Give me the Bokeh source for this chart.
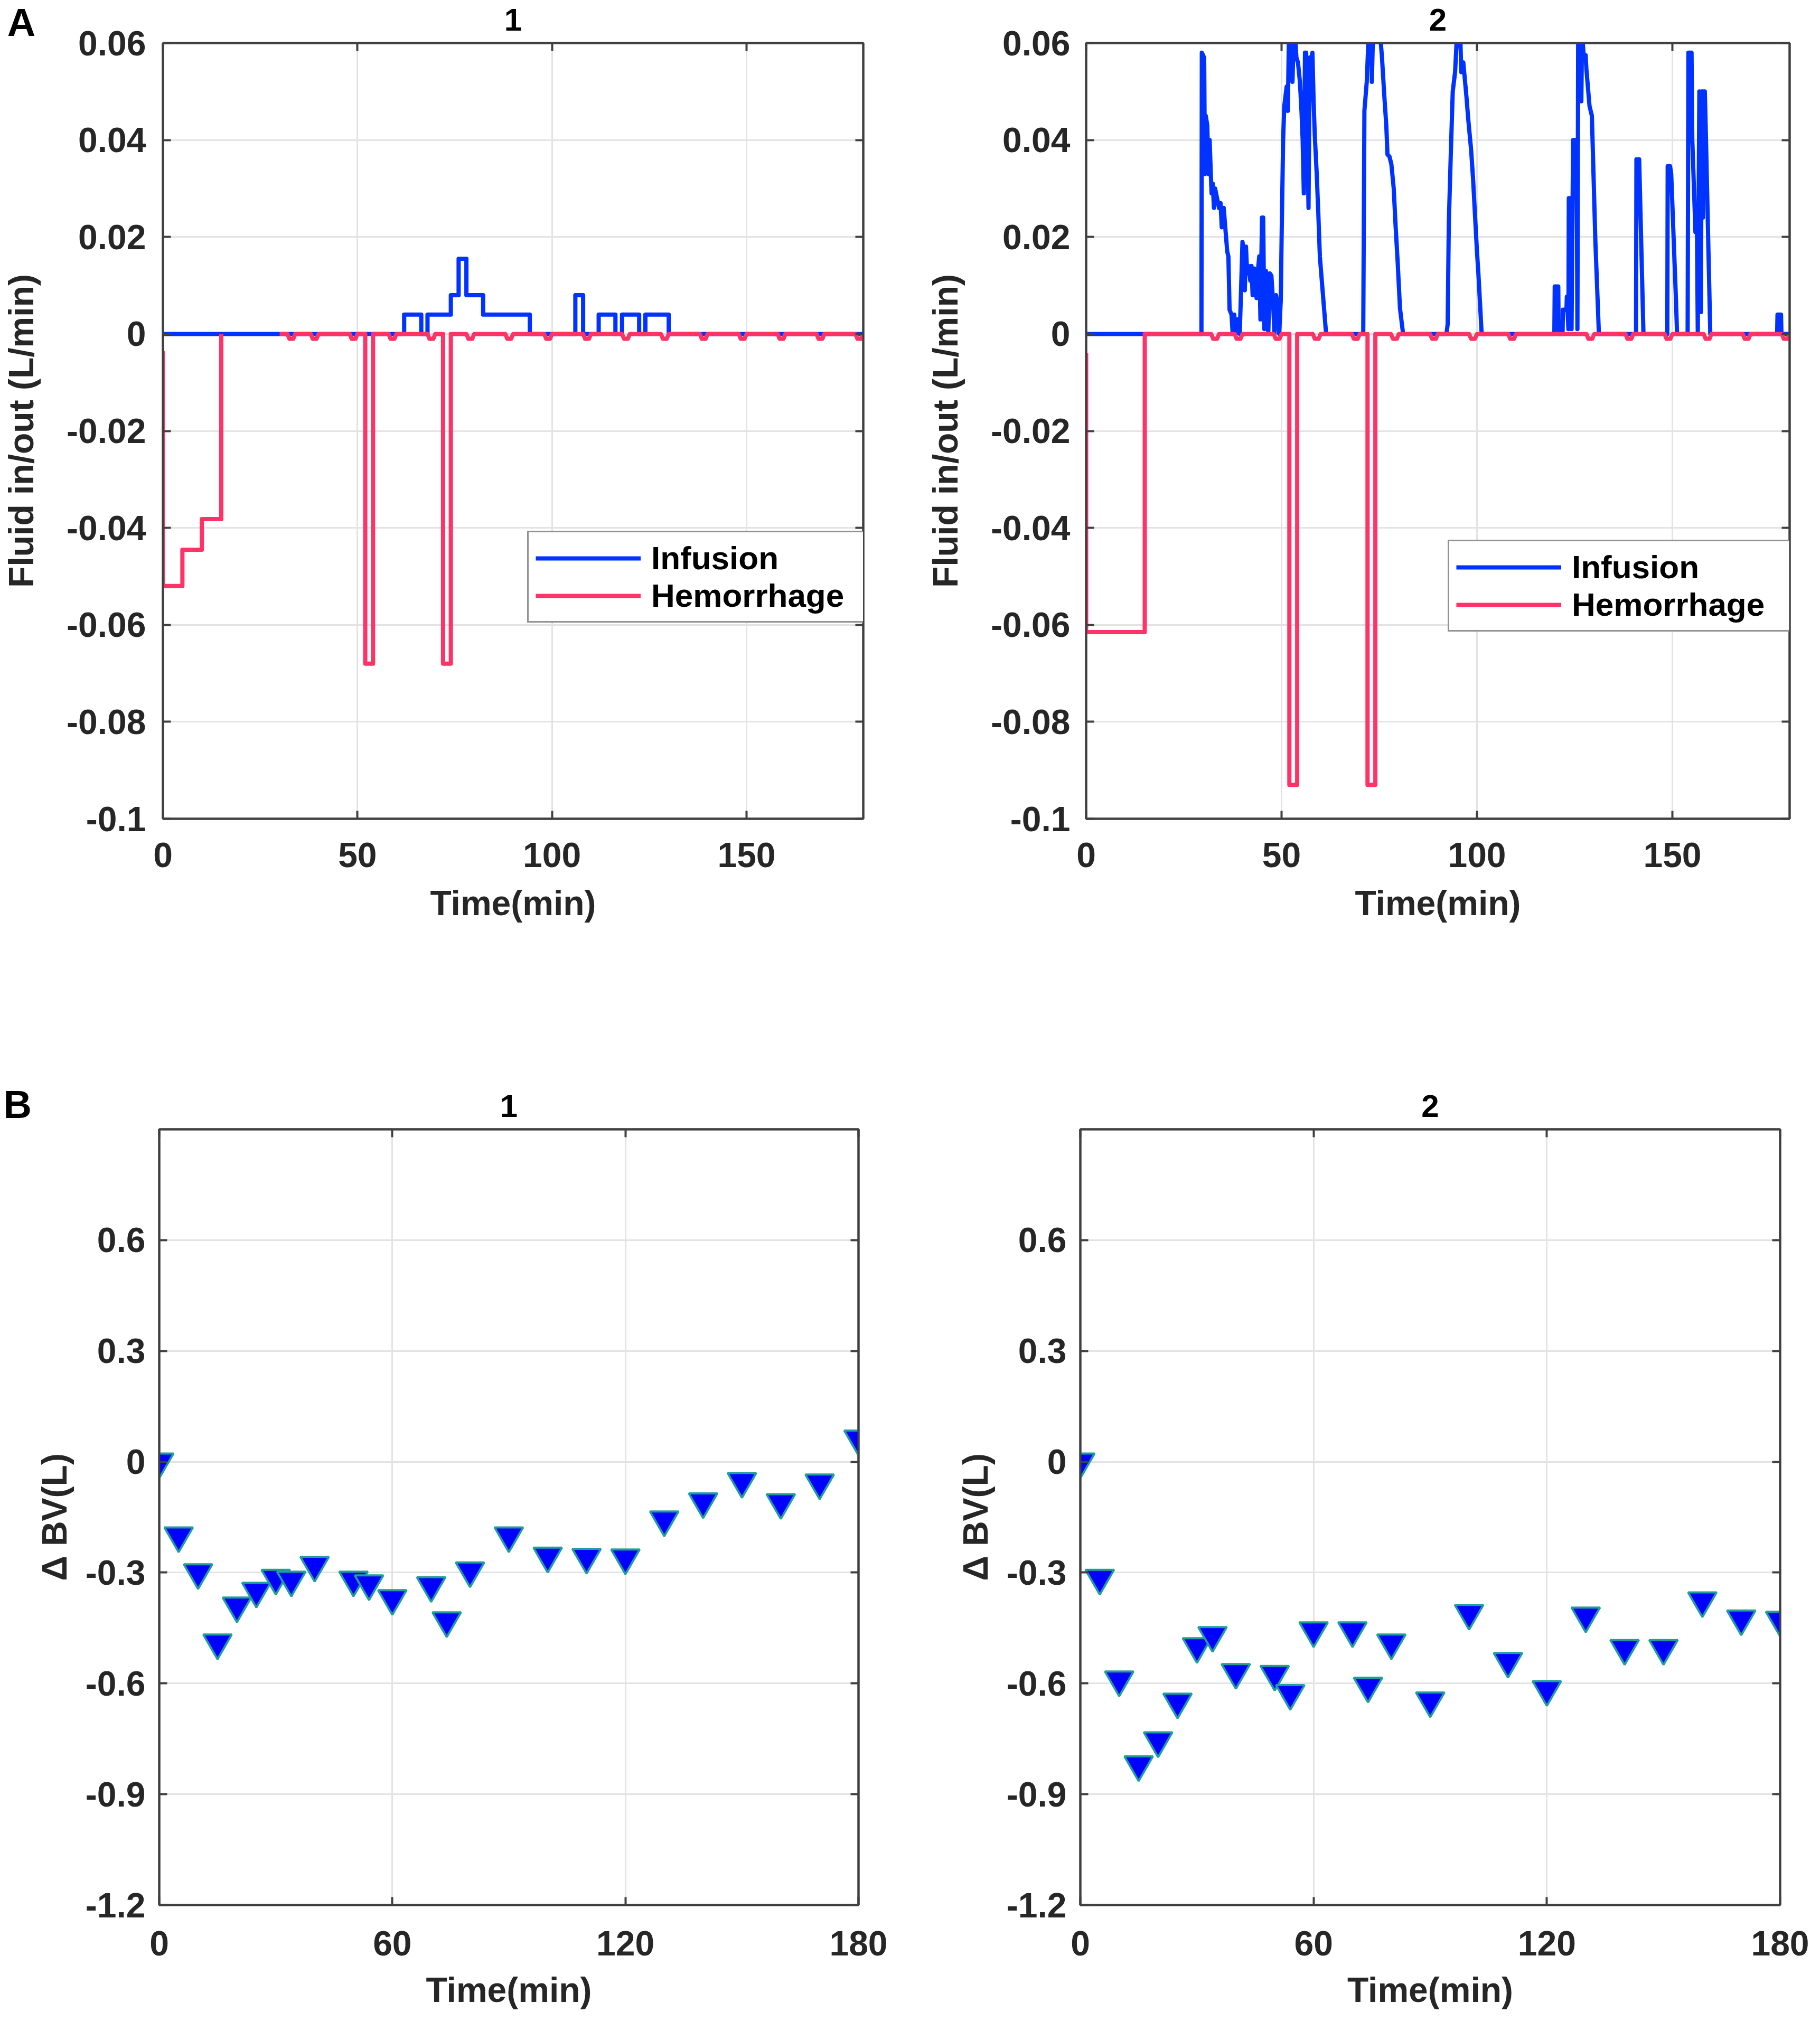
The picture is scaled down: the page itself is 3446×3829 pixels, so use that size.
from bokeh.plotting import figure
from bokeh.models import (Range1d, FixedTicker, LinearAxis, Label, Legend,
                          LegendItem, CustomJSTickFormatter)
from bokeh.layouts import column, row
from bokeh.embed import file_html
from bokeh.resources import INLINE
import math

# ---------------- data ----------------
# Panel A1 : infusion (piecewise constant, value holds from t[i] to t[i+1])
inf1_t = [0, 62, 66.4, 68, 74, 76, 78, 82.3, 94.3, 106, 108, 112, 116.3, 118,
          122.4, 124, 130, 180]
inf1_v = [0, 0.004, 0, 0.004, 0.008, 0.0155, 0.008, 0.004, 0, 0.008, 0, 0.004,
          0, 0.004, 0, 0.004, 0]
# Panel A1 : hemorrhage, initial phase vertices
hem1_x = [0, 0, 5, 5, 10, 10, 15, 15]
hem1_y = [-0.0035, -0.052, -0.052, -0.0445, -0.0445, -0.0382, -0.0382, 0]
hem1_base_start = 30
hem1_pulses = [(52, 54, -0.068), (72, 74, -0.068)]
hem1_dips = [33, 39, 49, 59, 69, 79, 89, 99, 109, 119, 129, 139, 149, 159, 169, 179]

# Panel A2 : infusion (sampled)
inf2_t = [0, 29.5, 29.6, 30.2, 30.4, 30.6, 31.0, 31.3, 31.6, 31.9, 32.1, 32.4, 32.7,
          33.0, 33.5, 34.0, 34.4, 34.7, 35.2, 35.6, 36.1, 36.4, 36.7, 37.2, 37.5,
          37.9, 38.3, 38.8, 39.3, 39.6, 40.0, 40.4, 40.6, 40.9, 41.2, 41.6, 42.0,
          42.3, 42.6, 43.0, 43.3, 43.6, 44.0, 44.3, 44.6, 45.0, 45.3, 45.6, 46.0,
          46.3, 46.6, 47.0, 47.4, 47.8, 48.2, 48.6, 49.0, 49.4, 49.8, 50.0, 50.4,
          50.7, 51.0, 51.3, 51.6, 51.9, 52.5, 52.8, 53.1, 53.5, 53.8, 54.2, 54.7,
          55.1, 55.4, 55.7, 56.0, 56.3, 56.6, 56.9, 57.2, 57.6, 57.9, 58.2, 58.5,
          59.0, 59.4, 59.8, 60.2, 60.6, 61.0, 61.4,
          70.9, 71.2, 71.8, 72.3, 73.0, 73.1, 73.4, 75.2, 75.7, 76.3, 76.8, 77.1,
          77.6, 78.1, 78.7, 79.2, 79.7, 80.3, 81.1,
          92.2, 92.5, 92.8, 93.3, 93.8, 94.4, 94.9, 95.7, 96.0, 96.5, 97.3, 97.8,
          98.5, 99.0, 99.4, 100.0, 100.4, 100.8, 101.2,
          119.8, 119.9, 120.8, 120.9, 121.9, 122.0, 122.9, 123.0, 123.4, 123.5,
          124.0, 124.2, 124.6, 125.5, 125.7, 125.9, 126.5, 126.7, 126.9, 127.3,
          127.8, 128.0, 128.8, 129.4, 130.3, 131.2,
          140.7, 140.8, 141.5, 142.6,
          148.7, 148.8, 149.4, 149.7, 150.9, 151.2,
          153.9, 154.1, 154.9, 155.1, 155.9, 156.3, 156.5, 156.9, 157.3, 157.5,
          157.8, 158.0, 158.3, 158.6, 159.7,
          176.8, 176.9, 177.8, 177.9, 180]
inf2_v = [0, 0, 0.058, 0.057, 0.033, 0.045, 0.043, 0.033, 0.040, 0.033, 0.029, 0.031, 0.026,
          0.030, 0.028, 0.026, 0.027, 0.022, 0.026, 0.022, 0.017, 0.016, 0.005, 0.004, 0.0,
          0.004, 0.0, 0.003, 0.0, 0.008, 0.019, 0.017, 0.009, 0.018, 0.0125, 0.014, 0.011,
          0.014, 0.008, 0.0135, 0.0125, 0.0074, 0.0135, 0.016, 0.003, 0.024, 0.024, 0.001, 0.013,
          0.010, 0.0, 0.0125, 0.012, 0.007, 0.0, 0.008, 0.006, 0.0, 0.007, 0.019, 0.040,
          0.047, 0.049, 0.051, 0.046, 0.062, 0.062, 0.052, 0.062, 0.061, 0.057, 0.056, 0.052,
          0.046, 0.040, 0.029, 0.058, 0.058, 0.040, 0.026, 0.057, 0.057, 0.058, 0.048, 0.041,
          0.033, 0.025, 0.016, 0.012, 0.008, 0.004, 0.0,
          0, 0.046, 0.052, 0.062, 0.062, 0.052, 0.062, 0.062, 0.057, 0.049, 0.043, 0.037,
          0.0366, 0.035, 0.030, 0.022, 0.015, 0.0053, 0,
          0, 0.002, 0.023, 0.037, 0.050, 0.054, 0.062, 0.062, 0.054, 0.056, 0.049, 0.044,
          0.038, 0.032, 0.026, 0.017, 0.012, 0.006, 0,
          0, 0.0098, 0.0098, 0, 0, 0.005, 0.005, 0.0077, 0.001, 0.028,
          0.028, 0.001, 0.040, 0.040, 0.001, 0.062, 0.062, 0.048, 0.062, 0.0575,
          0.0575, 0.0546, 0.047, 0.045, 0.019, 0,
          0, 0.036, 0.036, 0,
          0, 0.0346, 0.0346, 0.033, 0.0074, 0,
          0, 0.058, 0.058, 0.040, 0.021, 0.021, 0, 0.050, 0.0045, 0.050,
          0.024, 0.050, 0.050, 0.040, 0,
          0, 0.004, 0.004, 0, 0]
# Panel A2 : hemorrhage
hem2_x = [0, 0, 15, 15]
hem2_y = [-0.004, -0.0615, -0.0615, 0]
hem2_base_start = 15
hem2_pulses = [(52, 54, -0.093), (72, 74, -0.093)]
hem2_dips = [33, 39, 49, 59, 69, 79, 89, 99, 109, 129, 139, 149, 159, 169, 179]
dip_depth = 0.001

# Panel B : change in blood volume
bv_t = [0, 5, 10, 15, 20, 25, 30, 34, 40, 50, 54, 60, 70, 74, 80, 90, 100, 110,
        120, 130, 140, 150, 160, 170, 180]
bv1 = [0, -0.20, -0.30, -0.49, -0.39, -0.35, -0.315, -0.32, -0.28, -0.32, -0.33,
       -0.37, -0.335, -0.43, -0.295, -0.20, -0.255, -0.258, -0.26, -0.157, -0.108,
       -0.053, -0.11, -0.057, 0.062]
bv2 = [0, -0.315, -0.59, -0.82, -0.755, -0.65, -0.50, -0.47, -0.57, -0.575, -0.627,
       -0.457, -0.457, -0.607, -0.49, -0.647, -0.41, -0.54, -0.616, -0.417, -0.505,
       -0.505, -0.376, -0.425, -0.428]

# ticks
a_xticks = [0, 50, 100, 150]
a_xlabels = ["0", "50", "100", "150"]
a_yticks = [0.06, 0.04, 0.02, 0, -0.02, -0.04, -0.06, -0.08, -0.1]
a_ylabels = ["0.06", "0.04", "0.02", "0", "-0.02", "-0.04", "-0.06", "-0.08", "-0.1"]
b_xticks = [0, 60, 120, 180]
b_xlabels = ["0", "60", "120", "180"]
b_yticks = [0.6, 0.3, 0, -0.3, -0.6, -0.9, -1.2]
b_ylabels = ["0.6", "0.3", "0", "-0.3", "-0.6", "-0.9", "-1.2"]

# ---------------- helpers ----------------
K = 3430 / 3446.0


def S(v):
    return int(round(v * K))


FONT = "Liberation Sans"
FRAME = "#404040"
TXT = "#262626"
GRID = "#e3e3e3"
BLUE = "#0033FF"
RED = "#FF3366"
LW = S(8)
A_PX = 1476 / 0.16   # frame pixels per data unit, row A
B_PX = 1476 / 2.1    # frame pixels per data unit, row B


def step_xy(t, v):
    xs, ys = [], []
    for i, lv in enumerate(v):
        xs += [t[i], t[i + 1]]
        ys += [lv, lv]
    return xs, ys


def baseline(start, end, dips, pulses, depth):
    events = []
    for t in dips:
        events.append((t - 1.0, [(t - 1.0, 0), (t - 0.5, -depth), (t + 0.5, -depth), (t + 1.0, 0)]))
    for (t0, t1, v) in pulses:
        events.append((t0, [(t0, 0), (t0, v), (t1, v), (t1, 0)]))
    events.sort(key=lambda e: e[0])
    pts = [(start, 0)] + [p for _, seg in events for p in seg] + [(end, 0)]
    return [p[0] for p in pts], [p[1] for p in pts]


def fmt(tvals, tlabs):
    return CustomJSTickFormatter(args=dict(tvals=tvals, tlabs=tlabs), code="""
        for (let i = 0; i < tvals.length; i++) {
            if (Math.abs(tvals[i] - tick) < 1e-9) { return tlabs[i]; }
        }
        return "";
    """)


def style_common(ax):
    ax.axis_line_color = FRAME
    ax.axis_line_width = S(4)
    ax.major_tick_in = S(15)
    ax.major_tick_out = 0
    ax.major_tick_line_width = S(4)
    ax.major_tick_line_color = FRAME
    ax.minor_tick_in = S(15)
    ax.minor_tick_out = 0
    ax.minor_tick_line_width = S(4)
    ax.minor_tick_line_color = FRAME
    ax.major_label_text_font = FONT
    ax.major_label_text_font_style = "bold"
    ax.major_label_text_color = TXT
    ax.major_label_text_font_size = f"{S(66)}px"
    ax.axis_label_text_font = FONT
    ax.axis_label_text_font_style = "bold"
    ax.axis_label_text_color = TXT
    ax.axis_label_text_font_size = f"{S(66)}px"


def make_fig(w, h, bl, br, bt, bb, xr, yr, xt, xl, yt, yl, ylab,
             ylab_standoff, ytick_standoff, xtick_standoff, xlab_standoff):
    p = figure(width=S(w), height=S(h), x_range=Range1d(*xr), y_range=Range1d(*yr),
               output_backend="svg", toolbar_location=None,
               min_border_left=S(bl), min_border_right=S(br),
               min_border_top=S(bt), min_border_bottom=S(bb))
    p.background_fill_color = "white"
    p.border_fill_color = "white"
    p.outline_line_color = FRAME
    p.outline_line_width = S(4)
    # mirror axes: inside ticks only (drawn as minor ticks, no labels)
    p.add_layout(LinearAxis(ticker=FixedTicker(ticks=[], minor_ticks=yt)), "right")
    p.add_layout(LinearAxis(ticker=FixedTicker(ticks=[], minor_ticks=xt)), "above")
    bottom = p.below[0]
    left = p.left[0]
    bottom.ticker = FixedTicker(ticks=xt)
    bottom.formatter = fmt(xt, xl)
    left.ticker = FixedTicker(ticks=yt)
    left.formatter = fmt(yt, yl)
    for ax in (bottom, left, p.right[0], p.above[0]):
        style_common(ax)
    left.major_label_standoff = S(ytick_standoff)
    left.axis_label = ylab
    left.axis_label_standoff = S(ylab_standoff)
    bottom.major_label_standoff = S(xtick_standoff)
    bottom.axis_label = "Time(min)"
    bottom.axis_label_standoff = S(xlab_standoff)
    p.xgrid.ticker = FixedTicker(ticks=xt)
    p.ygrid.ticker = FixedTicker(ticks=yt)
    for g in (p.xgrid[0], p.ygrid[0]):
        g.grid_line_color = GRID
        g.grid_line_width = S(3)
    return p


def add_legend(p, r_inf, r_hem, loc):
    leg = Legend(items=[LegendItem(label="Infusion", renderers=[r_inf]),
                        LegendItem(label="Hemorrhage", renderers=[r_hem])],
                 location=(S(loc[0]), S(loc[1])))
    leg.label_text_font = FONT
    leg.label_text_font_style = "bold"
    leg.label_text_font_size = f"{S(62)}px"
    leg.label_text_color = "#000000"
    leg.glyph_width = S(200)
    leg.glyph_height = S(56)
    leg.label_height = S(56)
    leg.label_width = S(400)
    leg.label_standoff = S(20)
    leg.padding = S(13)
    leg.spacing = 0
    leg.margin = 0
    leg.border_line_color = TXT
    leg.border_line_width = S(3)
    leg.background_fill_color = "white"
    leg.background_fill_alpha = 1.0
    p.add_layout(leg)


def add_text(p, x, y, txt, size, side, align="center"):
    # placed in a side panel (where it has room) so it is not clipped to the frame;
    # its position is still given in data coordinates
    p.add_layout(Label(x=x, y=y, text=txt, text_font=FONT, text_font_style="bold",
                       text_font_size=f"{size}px", text_color="#000000",
                       text_align=align, text_baseline="middle"), side)


# ---------------- panel A1 ----------------
pA1 = make_fig(1723, 1760, 304, 81, 81, 203, (0, 180), (-0.1, 0.06),
               a_xticks, a_xlabels, a_yticks, a_ylabels, "Fluid in/out (L/min)",
               46, 32, 45, 28)
x1, y1 = step_xy(inf1_t, inf1_v)
r_inf1 = pA1.line(x1, y1, line_color=BLUE, line_width=LW, line_join="round")
bx, by = baseline(hem1_base_start, 180, hem1_dips, hem1_pulses, dip_depth)
hx = hem1_x + [math.nan] + bx
hy = hem1_y + [math.nan] + by
r_hem1 = pA1.line(hx, hy, line_color=RED, line_width=LW, line_join="round")
add_legend(pA1, r_inf1, r_hem1, (693, 373))
add_text(pA1, 90, 0.06 + 44 / A_PX, "1", S(60), "above")
add_text(pA1, -40.0, 0.06 + 39 / A_PX, "A", S(74), "right", align="left")

# ---------------- panel A2 ----------------
pA2 = make_fig(1723, 1760, 343, 42, 81, 203, (0, 180), (-0.1, 0.06),
               a_xticks, a_xlabels, a_yticks, a_ylabels, "Fluid in/out (L/min)",
               46, 30, 45, 28)
r_inf2 = pA2.line(inf2_t, inf2_v, line_color=BLUE, line_width=LW, line_join="round")
bx2, by2 = baseline(hem2_base_start, 180, hem2_dips, hem2_pulses, dip_depth)
r_hem2 = pA2.line(hem2_x + bx2, hem2_y + by2, line_color=RED, line_width=LW, line_join="round")
add_legend(pA2, r_inf2, r_hem2, (688, 356))
add_text(pA2, 90, 0.06 + 44 / A_PX, "2", S(60), "above")

# ---------------- panel B1 ----------------
pB1 = make_fig(1723, 2069, 302, 90, 388, 205, (0, 180), (-1.2, 0.9),
               b_xticks, b_xlabels, b_yticks, b_ylabels, "Δ BV(L)",
               19, 26, 49, 25)
pB1.scatter(bv_t, bv1, marker="inverted_triangle", size=S(54), fill_color="#0000FF",
            line_color="#1F9E9A", line_width=S(4))
add_text(pB1, 90, 0.9 + 44 / B_PX, "1", S(60), "above")
add_text(pB1, -40.1, 0.9 + 47 / B_PX, "B", S(74), "above", align="left")

# ---------------- panel B2 ----------------
pB2 = make_fig(1723, 2069, 332, 60, 388, 205, (0, 180), (-1.2, 0.9),
               b_xticks, b_xlabels, b_yticks, b_ylabels, "Δ BV(L)",
               19, 26, 49, 25)
pB2.scatter(bv_t, bv2, marker="inverted_triangle", size=S(54), fill_color="#0000FF",
            line_color="#1F9E9A", line_width=S(4))
add_text(pB2, 90, 0.9 + 44 / B_PX, "2", S(60), "above")

layout = column(row(pA1, pA2), row(pB1, pB2))
open("out.html", "w").write(file_html(layout, INLINE))
